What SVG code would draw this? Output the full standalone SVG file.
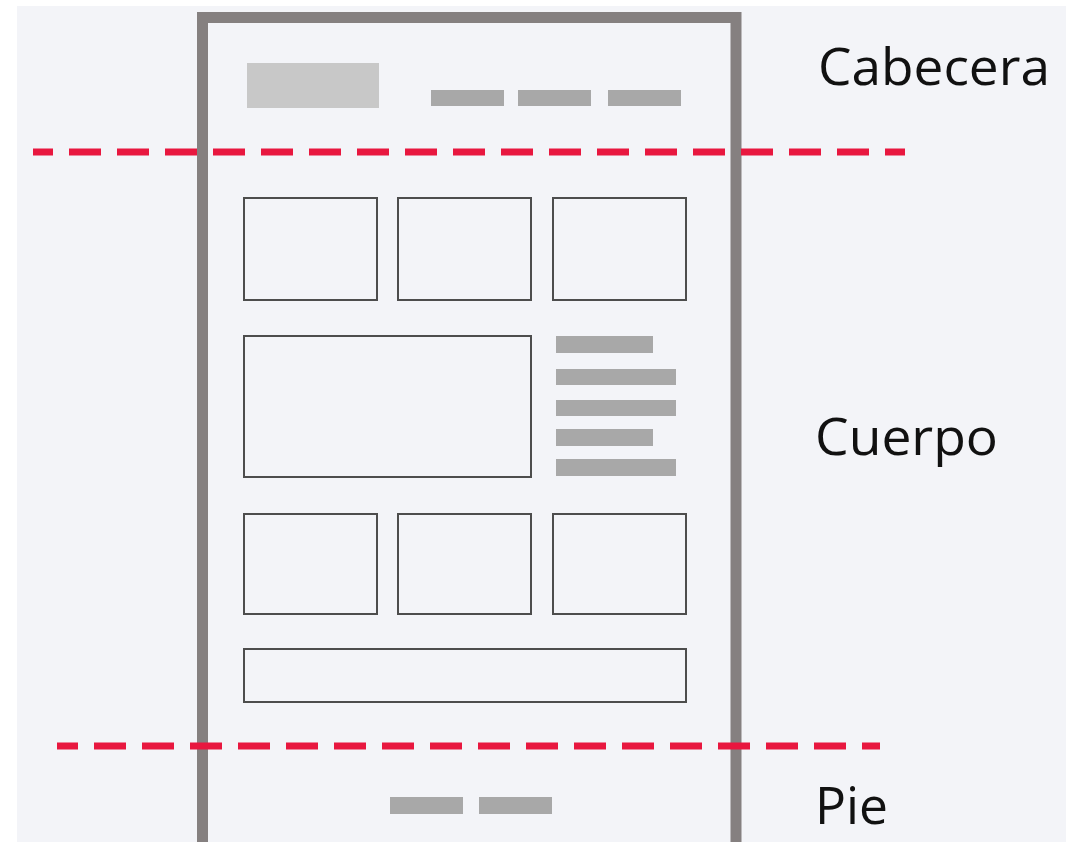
<svg xmlns="http://www.w3.org/2000/svg" width="1066" height="842" viewBox="0 0 1066 842">
<style>
.box{fill:none;stroke:#4d4d4d;stroke-width:2}
.bar{fill:#a8a8a8}
.dash{stroke:#e8173f;stroke-width:7;stroke-dasharray:32 16;fill:none}
.lbl{font-family:"Open Sans","Noto Sans",sans-serif;font-size:52px;fill:#111}
</style>
<rect x="0" y="0" width="1066" height="842" fill="#ffffff"/>
<rect x="17" y="6" width="1049" height="836" fill="#f3f4f8"/>
<g id="frame">
<path d="M202.5 842 V17.5 H736 V842" fill="none" stroke="#858080" stroke-width="11"/>
</g>
<g id="header">
<rect x="247" y="63" width="132" height="45" fill="#c8c8c8"/>
<rect class="bar" x="431" y="90" width="73" height="16"/>
<rect class="bar" x="518" y="90" width="73" height="16"/>
<rect class="bar" x="608" y="90" width="73" height="16"/>
</g>
<g id="body">
<rect class="box" x="244" y="198" width="133" height="102"/>
<rect class="box" x="398" y="198" width="133" height="102"/>
<rect class="box" x="553" y="198" width="133" height="102"/>
<rect class="box" x="244" y="336" width="287" height="141"/>
<rect class="bar" x="556" y="336" width="97" height="17"/>
<rect class="bar" x="556" y="369" width="120" height="16"/>
<rect class="bar" x="556" y="400" width="120" height="16"/>
<rect class="bar" x="556" y="429" width="97" height="17"/>
<rect class="bar" x="556" y="459" width="120" height="17"/>
<rect class="box" x="244" y="514" width="133" height="100"/>
<rect class="box" x="398" y="514" width="133" height="100"/>
<rect class="box" x="553" y="514" width="133" height="100"/>
<rect class="box" x="244" y="649" width="442" height="53"/>
</g>
<g id="footer">
<rect class="bar" x="390" y="797" width="73" height="17"/>
<rect class="bar" x="479" y="797" width="73" height="17"/>
</g>
<g id="connectors">
<line class="dash" x1="33" y1="152" x2="905" y2="152" stroke-dashoffset="12"/>
<line class="dash" x1="57" y1="746" x2="880" y2="746" stroke-dashoffset="11"/>
</g>
<g id="labels">
<text class="lbl" x="818" y="85" textLength="232" lengthAdjust="spacingAndGlyphs">Cabecera</text>
<text class="lbl" x="815" y="455" textLength="183" lengthAdjust="spacingAndGlyphs">Cuerpo</text>
<text class="lbl" x="815" y="824" textLength="73" lengthAdjust="spacingAndGlyphs">Pie</text>
</g>
</svg>
